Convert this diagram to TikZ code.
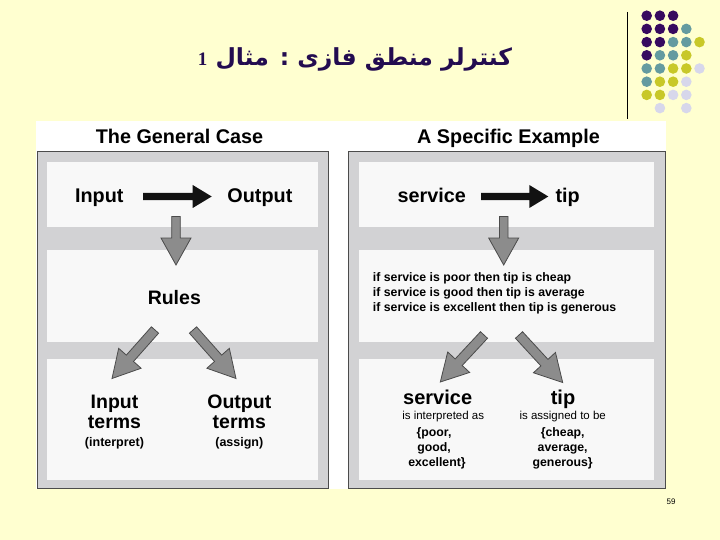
\documentclass[tikz,border=0pt]{standalone}
\usepackage{fontspec}
\setmainfont{Liberation Sans}
\newfontfamily\arabicfont[Script=Arabic]{DejaVu Sans}
\newfontfamily\serifnum{Liberation Serif}
\TeXXeTstate=1
\usetikzlibrary{calc}
\definecolor{bgyellow}{RGB}{255,255,208}
\definecolor{titlecol}{RGB}{35,12,80}
\definecolor{boxgray}{RGB}{210,210,212}
\definecolor{boxline}{RGB}{75,75,75}
\definecolor{panelwhite}{RGB}{248,248,248}
\definecolor{arrowgray}{RGB}{140,140,140}
\definecolor{dotP}{RGB}{55,10,95}
\definecolor{dotT}{RGB}{100,155,160}
\definecolor{dotY}{RGB}{200,200,40}
\definecolor{dotL}{RGB}{215,215,235}
\newcommand\myblockarrow[6]{%
  \coordinate (mba) at ($(#2)!#5!(#1)$);
  \draw[#6] ($(#1)!#3!90:(#2)$) -- ($(mba)!#3!90:(#2)$) -- ($(mba)!#4!90:(#2)$)
    -- (#2) -- ($(mba)!#4!-90:(#2)$) -- ($(mba)!#3!-90:(#2)$) -- ($(#1)!#3!-90:(#2)$) -- cycle;
}
\tikzset{
  hdr/.style={font=\bfseries\fontsize{19.8}{22}\selectfont, inner sep=0, anchor=base},
  big/.style={font=\bfseries\fontsize{19.5}{22}\selectfont, inner sep=0, anchor=base},
  small/.style={font=\bfseries\fontsize{12.5}{15}\selectfont, inner sep=0, anchor=base},
  rule/.style={font=\bfseries\fontsize{12.3}{15}\selectfont, inner sep=0, anchor=base west},
  plain/.style={font=\fontsize{11.5}{14}\selectfont, inner sep=0, anchor=base},
  setl/.style={font=\bfseries\fontsize{12.3}{15}\selectfont, inner sep=0, anchor=base},
  blackarrow/.style={fill=black!93, draw=none},
  grayarrow/.style={fill=arrowgray, draw=boxline, line width=0.8pt, line join=miter},
  panel/.style={fill=panelwhite, draw=none},
  outerbox/.style={fill=boxgray, draw=boxline, line width=1pt},
}
\begin{document}
\begin{tikzpicture}[x=1pt,y=-1pt]
\useasboundingbox (0,0) rectangle (720,540);
\fill[bgyellow] (0,0) rectangle (720,540);
% title
\node[text=titlecol, inner sep=0] (title) at (355,59)
  {\beginR{\arabicfont\bfseries\fontsize{23.5}{26}\selectfont کنترلر منطق فازی : مثال }{\serifnum\bfseries\fontsize{19}{22}\selectfont 1}\endR};
% decoration
\draw[black, line width=0.8pt] (627,12) -- (627,119);
\foreach \c/\r/\col in {0/0/dotP,1/0/dotP,2/0/dotP,
  0/1/dotP,1/1/dotP,2/1/dotP,3/1/dotT,
  0/2/dotP,1/2/dotP,2/2/dotT,3/2/dotT,4/2/dotY,
  0/3/dotP,1/3/dotT,2/3/dotT,3/3/dotY,
  0/4/dotT,1/4/dotT,2/4/dotY,3/4/dotY,4/4/dotL,
  0/5/dotT,1/5/dotY,2/5/dotY,3/5/dotL,
  0/6/dotY,1/6/dotY,2/6/dotL,3/6/dotL,
  1/7/dotL,3/7/dotL}
  \fill[\col] (646.7+13.2*\c, 15.7+13.2*\r) circle[radius=5.3pt];
% backdrop
\fill[white] (36,121) rectangle (666,489);
\node[hdr] (h1) at (179.5,143.3) {The General Case};
\node[hdr] (h2) at (508.5,143.3) {A Specific Example};
% boxes
\draw[outerbox] (37,152) rectangle (328,488);
\draw[outerbox] (348,152) rectangle (665,488);
\foreach \xa/\xb in {47/317.5, 359/654.3}{
  \fill[panel] (\xa,162.5) rectangle (\xb,227);
  \fill[panel] (\xa,249.5) rectangle (\xb,342);
  \fill[panel] (\xa,358.5) rectangle (\xb,480);
}
% left column
\node[hdr] (in1) at (99.3,202.3) {Input};
\node[hdr] (out1) at (259.9,202.3) {Output};
\coordinate (la0) at (143,196.5);
\coordinate (la1) at (211.7,196.5);
\myblockarrow{la0}{la1}{3.6pt}{11.5pt}{19pt}{blackarrow}
\coordinate (ld0) at (176,216.5);
\coordinate (ld1) at (176,265);
\myblockarrow{ld0}{ld1}{4.3pt}{15pt}{27pt}{grayarrow}
\node[big] (rules) at (174.3,304) {Rules};
\coordinate (lp0) at (155,330);
\coordinate (lp1) at (112,378.5);
\myblockarrow{lp0}{lp1}{4.8pt}{15pt}{27pt}{grayarrow}
\coordinate (lq0) at (193,330);
\coordinate (lq1) at (236,378.5);
\myblockarrow{lq0}{lq1}{4.8pt}{15pt}{27pt}{grayarrow}
\node[big] (inA) at (114.5,408.3) {Input};
\node[big] (inB) at (114.5,428.3) {terms};
\node[small] (inC) at (114.5,446) {(interpret)};
\node[big] (outA) at (239.3,408.3) {Output};
\node[big] (outB) at (239.3,428.3) {terms};
\node[small] (outC) at (239.3,446) {(assign)};
% right column
\node[hdr] (sv1) at (431.8,202.3) {service};
\node[hdr] (tp1) at (567.7,202.3) {tip};
\coordinate (ra0) at (481,196.5);
\coordinate (ra1) at (548.3,196.5);
\myblockarrow{ra0}{ra1}{3.6pt}{11.5pt}{19pt}{blackarrow}
\coordinate (rd0) at (503.7,216.5);
\coordinate (rd1) at (503.7,265);
\myblockarrow{rd0}{rd1}{4.3pt}{15pt}{27pt}{grayarrow}
\node[rule] (r1) at (372.7,281.7) {if service is poor then tip is cheap};
\node[rule] (r2) at (372.7,296.7) {if service is good then tip is average};
\node[rule] (r3) at (372.7,311.7) {if service is excellent then tip is generous};
\coordinate (rp0) at (484,335);
\coordinate (rp1) at (440.3,382);
\myblockarrow{rp0}{rp1}{4.8pt}{15pt}{27pt}{grayarrow}
\coordinate (rq0) at (519,335);
\coordinate (rq1) at (562.7,382.5);
\myblockarrow{rq0}{rq1}{4.8pt}{15pt}{27pt}{grayarrow}
\node[big, font=\bfseries\fontsize{20}{22}\selectfont] (sv2) at (437.7,404) {service};
\node[big, font=\bfseries\fontsize{20}{22}\selectfont] (tp2) at (563,404) {tip};
\node[plain] (sv3) at (443.2,419.3) {is interpreted as};
\node[plain] (tp3) at (562.7,419.3) {is assigned to be};
\node[setl] (sa) at (434,436.5) {\{poor,};
\node[setl] (sb) at (434,451.5) {good,};
\node[setl] (sc) at (437,466.5) {excellent\}};
\node[setl] (ta) at (562.7,436.5) {\{cheap,};
\node[setl] (tb) at (562.7,451.5) {average,};
\node[setl] (tc) at (562.7,466.5) {generous\}};
% page number
\node[font=\fontsize{8}{9}\selectfont, inner sep=0] (pg) at (671,501.7) {59};
\end{tikzpicture}
\end{document}
